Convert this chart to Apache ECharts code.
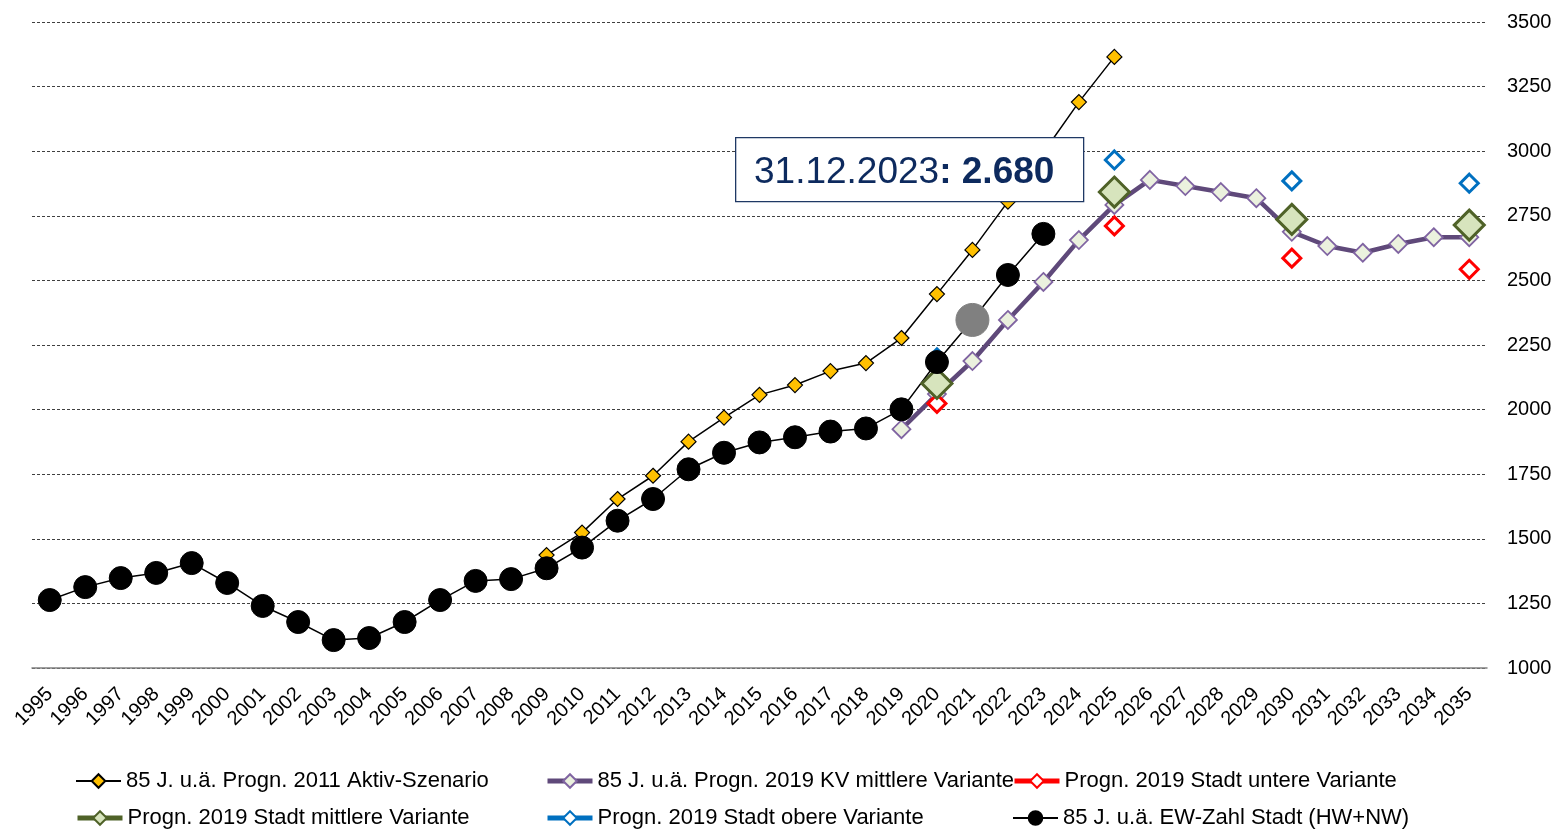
<!DOCTYPE html>
<html>
<head>
<meta charset="utf-8">
<script src="https://cdn.jsdelivr.net/npm/echarts@6/dist/echarts.min.js"></script>
<style>
  html, body { margin: 0; padding: 0; background: #fff; }
  #chart { width: 1557px; height: 829px; }
</style>
</head>
<body>
<div id="chart"></div>
<script>
const years = ['1995','1996','1997','1998','1999','2000','2001','2002','2003','2004',
  '2005','2006','2007','2008','2009','2010','2011','2012','2013','2014',
  '2015','2016','2017','2018','2019','2020','2021','2022','2023','2024',
  '2025','2026','2027','2028','2029','2030','2031','2032','2033','2034','2035'];

// Progn. 2011 Aktiv-Szenario, 2009..2025
const aktivStart = '2009';
const aktiv2011 = [1437, 1524, 1654, 1744, 1876, 1969, 2057, 2095, 2149, 2180,
  2277, 2447, 2618, 2805, 2995, 3190, 3365];

// Progn. 2019 KV mittlere Variante, 2019..2035
const kvStart = '2019';
const kv2019 = [1924, 2060, 2188, 2347, 2494, 2656, 2792, 2889, 2865, 2842,
  2818, 2688, 2633, 2607, 2641, 2667, 2667];

// Progn. 2019 Stadt (unten / mittel / oben)
const stadtYears = ['2020', '2025', '2030', '2035'];
const stadtUnten = [2024, 2711, 2586, 2543];
const stadtMitte = [2101, 2842, 2736, 2714];
const stadtOben = [2200, 2966, 2885, 2876];

// EW-Zahl Stadt (HW+NW), 1995..2023
const ewStart = '1995';
const ewZahl = [1263, 1313, 1348, 1368, 1406, 1329, 1240, 1178, 1108, 1116,
  1178, 1263, 1337, 1344, 1386, 1466, 1570, 1654, 1769, 1833,
  1873, 1893, 1915, 1927, 2001, 2184, 2347, 2521, 2680];
const grayYear = '2021';

const names = [
  '85 J. u.ä. Progn. 2011 Aktiv-Szenario',
  '85 J. u.ä. Progn. 2019 KV mittlere Variante',
  'Progn. 2019 Stadt untere Variante',
  'Progn. 2019 Stadt mittlere Variante',
  'Progn. 2019 Stadt obere Variante',
  '85 J. u.ä. EW-Zahl Stadt (HW+NW)'
];

function fromStart(start, vals) {
  const s = years.indexOf(start);
  return years.map((y, i) => (i >= s && i - s < vals.length) ? vals[i - s] : null);
}
function atYears(ys, vals) {
  return years.map(y => ys.indexOf(y) >= 0 ? vals[ys.indexOf(y)] : null);
}

const FONT = '"Liberation Sans", Arial, sans-serif';

const ewData = fromStart(ewStart, ewZahl).map((v, i) => {
  if (years[i] === grayYear && v != null) {
    return { value: v, symbolSize: 33, itemStyle: { color: '#808080', borderColor: '#808080' } };
  }
  return v;
});

const legendPos = [[75, 770], [545, 770], [1012, 770], [75, 807], [545, 807], [1012, 807]];
const legendLineWidth = [2, 5, 5, 5, 5, 2];

const chart = echarts.init(document.getElementById('chart'));
chart.setOption({
  animation: false,
  textStyle: { fontFamily: FONT },
  grid: { left: 32, right: 70, top: 22, bottom: 161 },
  legend: names.map((n, i) => ({
    data: [n],
    left: legendPos[i][0],
    top: legendPos[i][1],
    padding: 0,
    itemWidth: 45,
    itemHeight: 17,
    itemGap: 4,
    selectedMode: false,
    lineStyle: { width: legendLineWidth[i] },
    textStyle: { fontFamily: FONT, fontSize: 22, color: '#000' }
  })),
  xAxis: {
    type: 'category',
    data: years,
    boundaryGap: true,
    axisLine: { lineStyle: { color: '#808080', width: 1.5 } },
    axisTick: { show: false },
    axisLabel: { interval: 0, rotate: 45, fontSize: 20, color: '#000', margin: 23, fontFamily: FONT }
  },
  yAxis: {
    type: 'value',
    position: 'right',
    min: 1000,
    max: 3500,
    interval: 250,
    axisLine: { show: false },
    axisTick: { show: false },
    axisLabel: { fontSize: 20, color: '#000', margin: 20, fontFamily: FONT, formatter: v => String(v) },
    splitLine: { lineStyle: { color: '#404040', type: [3, 2], width: 1 } }
  },
  series: [
    {
      name: names[0], type: 'line', data: fromStart(aktivStart, aktiv2011),
      symbol: 'diamond', symbolSize: 15, showAllSymbol: true,
      lineStyle: { color: '#000', width: 1.5 },
      itemStyle: { color: '#FFC000', borderColor: '#000', borderWidth: 1.2 }
    },
    {
      name: names[1], type: 'line', data: fromStart(kvStart, kv2019),
      symbol: 'diamond', symbolSize: 18, showAllSymbol: true,
      lineStyle: { color: '#5F497A', width: 4.5 },
      itemStyle: { color: '#EBF1DE', borderColor: '#8064A2', borderWidth: 1.8 }
    },
    {
      name: names[2], type: 'line', data: atYears(stadtYears, stadtUnten),
      symbol: 'diamond', symbolSize: 18, showAllSymbol: true,
      lineStyle: { color: '#FF0000', width: 5 },
      itemStyle: { color: '#FFFFFF', borderColor: '#FF0000', borderWidth: 3 }
    },
    {
      name: names[3], type: 'line', data: atYears(stadtYears, stadtMitte),
      symbol: 'diamond', symbolSize: 30, showAllSymbol: true,
      lineStyle: { color: '#4F6228', width: 5 },
      itemStyle: { color: '#D7E4BD', borderColor: '#4F6228', borderWidth: 3 }
    },
    {
      name: names[4], type: 'line', data: atYears(stadtYears, stadtOben),
      symbol: 'diamond', symbolSize: 18, showAllSymbol: true,
      lineStyle: { color: '#0070C0', width: 5 },
      itemStyle: { color: '#FFFFFF', borderColor: '#0070C0', borderWidth: 3 }
    },
    {
      name: names[5], type: 'line', data: ewData,
      symbol: 'circle', symbolSize: 23, showAllSymbol: true,
      lineStyle: { color: '#000', width: 1.5 },
      itemStyle: { color: '#000', borderColor: '#000', borderWidth: 1 }
    }
  ],
  graphic: [
    {
      type: 'rect', left: 735, top: 137, z: 100,
      shape: { width: 348, height: 64 },
      style: { fill: '#fff', stroke: '#1F3864', lineWidth: 1.3 }
    },
    {
      type: 'text', left: 754, top: 154, z: 101,
      style: {
        text: '{a|31.12.2023}{b|: 2.680}',
        rich: {
          a: { fontSize: 37, fontFamily: FONT, fill: '#0D2A5E', color: '#0D2A5E' },
          b: { fontSize: 37, fontFamily: FONT, fontWeight: 'bold', fill: '#0D2A5E', color: '#0D2A5E' }
        }
      }
    }
  ]
});
</script>
</body>
</html>
